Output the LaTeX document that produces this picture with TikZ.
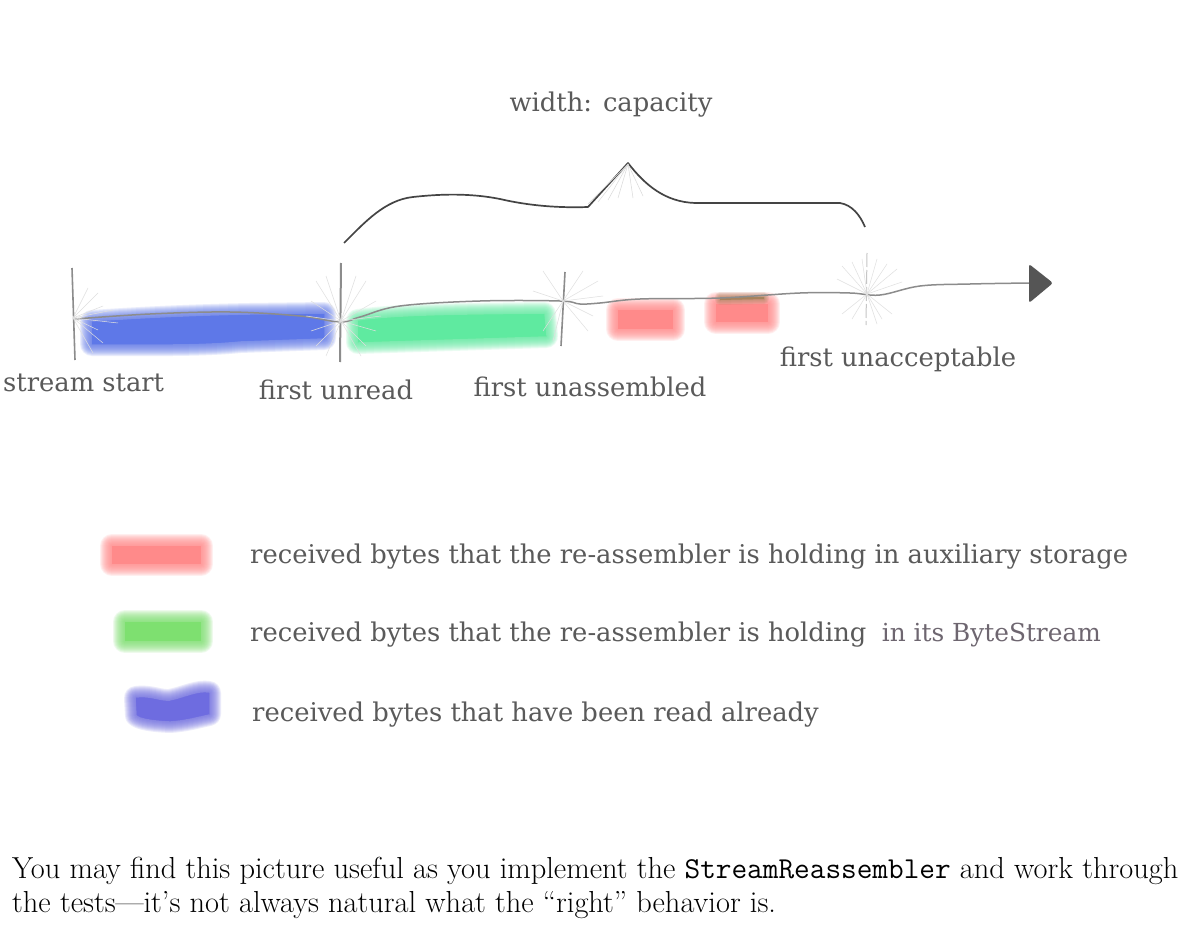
\documentclass[tikz,border=0pt]{standalone}
\usepackage{fontspec}
\newfontfamily\dvs{DejaVu Serif}
\definecolor{lbl}{HTML}{5A5A5A}
\definecolor{lbltwo}{HTML}{6E6670}
\definecolor{cblue}{HTML}{5E78E8}
\definecolor{cgreen}{HTML}{5FEAA0}
\definecolor{cred}{HTML}{FF8A8A}
\definecolor{cbrown}{HTML}{9C7C50}
\definecolor{lgreen}{HTML}{7EE070}
\definecolor{lblue}{HTML}{6E6CE0}
\definecolor{axisgray}{HTML}{8C8C8C}
\definecolor{bracegray}{HTML}{444444}
\definecolor{headgray}{HTML}{555555}
\newcommand\softfill[3][24]{%
  \foreach \w in {2,4,...,#1}{%
    \path[draw=#2,fill=#2,line width=\w pt,line join=round,opacity=0.13] #3;}%
  \path[fill=#2] #3;}
\tikzset{
  lab/.style={font=\dvs\fontsize{25.8}{30}\selectfont, text=lbl, inner sep=0pt},
  tick/.style={draw=axisgray, line width=1.6pt},
  fan/.style={draw=gray!25, line width=0.5pt},
  axisline/.style={draw=axisgray, line width=1.5pt},
  brace/.style={draw=bracegray, line width=1.7pt, line join=round},
  body/.style={font=\fontsize{30.4}{36}\selectfont, inner sep=0pt, text=black}
}
\begin{document}
\begin{tikzpicture}[x=1pt,y=-1pt]
\useasboundingbox[fill=white] (0,0) rectangle (1202,928);

% coloured segments on the stream
\softfill{cblue}{(92,322) .. controls (150,318) and (200,316) .. (250,315) -- (324,314) -- (324,338) -- (240,341) .. controls (200,345) and (150,344) .. (92,344) -- cycle}
\softfill{cgreen}{(358,321) .. controls (400,315) and (470,315) .. (544,314) -- (546,336) -- (358,342) -- cycle}
\softfill{cred}{(618,310) rectangle (673,329)}
\softfill{cred}{(716,304) rectangle (768,322)}
\begin{scope}[opacity=0.45]
\softfill[10]{cbrown}{(720,297) -- (764,297) -- (764,299) -- (720,300) -- cycle}
\end{scope}

% axis
\coordinate (s0) at (75,319);
\coordinate (tip) at (1030,283);
\path[axisline] plot[smooth, tension=0.6] coordinates {(75,319) (150,314) (230,312) (300,316) (340,322) (360,317) (400,306) (480,301) (560,301) (580,304) (600,303) (640,299) (720,298) (800,293) (850,293) (880,295) (920,286) (970,284) (1030,283)};
\fill[headgray, rounded corners=2.5pt] (1029,264) -- (1053,283) -- (1029,303) -- cycle;

% ticks
\coordinate (t1) at (73,318);
\coordinate (t2) at (341,321);
\coordinate (t3) at (563,301);
\coordinate (t4) at (867,294);
\draw[tick] (72,268) -- (75,360);
\draw[tick, line width=2pt] (341,263) -- (340,362);
\draw[tick] (565,272) -- (561,346);
\draw[tick, draw=gray!45, line width=1pt, dash pattern=on 14pt off 3pt] (867,253) -- (866,325);

% fans around the ticks
\foreach \dx/\dy in {15/-30,25/-25,30/-12,40/-8,25/12,30/25,20/35,45/5}
  \draw[fan] (t1) -- ++(\dx,\dy);
\foreach \dx/\dy in {-25/-40,-15/-45,15/-45,25/-40,-30/-20,35/-20,-35/-5,40/-5,-25/25,25/25,-15/35,20/35,-30/10,35/10}
  \draw[fan] (t2) -- ++(\dx,\dy);
\foreach \dx/\dy in {-20/-30,20/-30,35/-20,-30/-10,40/-5,-20/30,25/30,30/15,-10/40}
  \draw[fan] (t3) -- ++(\dx,\dy);
\foreach \dx/\dy in {-25/-28,-15/-32,-5/-35,10/-35,20/-30,30/-25,-30/-15,35/-12,-25/20,-15/25,15/25,25/20,10/30}
  \draw[fan] (t4) -- ++(\dx,\dy);

% brace
\draw[brace] (344,243) .. controls (365,222) and (385,200) .. (413,197)
  .. controls (440,194) and (470,193) .. (500,199)
  .. controls (530,206) and (560,208) .. (588,207) -- (628,163)
  .. controls (645,185) and (665,202) .. (695,203) -- (840,203)
  .. controls (852,205) and (860,215) .. (865,227);
\foreach \dx/\dy in {-30/38,-20/36,-10/34,5/34,15/32,-40/40}
  \draw[fan, draw=gray!30] (628,164) -- ++(\dx,\dy);

% labels
\node[lab, anchor=base] (cap) at (611,112) {width: capacity};
\node[lab, anchor=base west] (ss) at (3,391) {stream start};
\node[lab, anchor=base] (fu) at (336,399) {first unread};
\node[lab, anchor=base] (fa) at (590,396) {first unassembled};
\node[lab, anchor=base] (fx) at (898,366) {first unacceptable};

% legend
\softfill{cred}{(112,546) rectangle (201,564)}
\softfill{lgreen}{(125,622) rectangle (201,641)}
\softfill{lblue}{(136,698) .. controls (150,696) and (160,702) .. (170,701) .. controls (185,698) and (198,691) .. (209,693) -- (209,714) .. controls (195,717) and (185,720) .. (170,721) .. controls (150,720) and (141,718) .. (137,715) -- cycle}
\node[lab, anchor=base west] (l1) at (250,563) {received bytes that the re-assembler is holding in auxiliary storage};
\node[lab, anchor=base west] (l2) at (250,641) {received bytes that the re-assembler is holding\hspace{0.6em}{\fontsize{24.8}{30}\selectfont\color{lbltwo}in its ByteStream}};
\node[lab, anchor=base west] (l3) at (252,721) {received bytes that have been read already};

% caption
\node[body, anchor=base west] (p1) at (12,878) {You may find this picture useful as you implement the \texttt{StreamReassembler} and work through};
\node[body, anchor=base west] (p2) at (12,912) {the tests---it's not always natural what the ``right'' behavior is.};
\end{tikzpicture}
\end{document}
